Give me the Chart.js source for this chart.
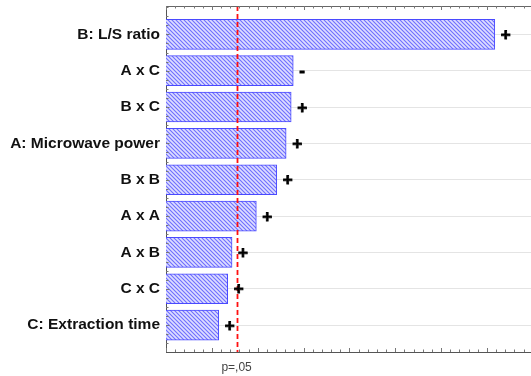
<!DOCTYPE html>
<html><head><meta charset="utf-8">
<script src="https://cdn.jsdelivr.net/npm/chart.js@4"></script>
<style>html,body{margin:0;padding:0;background:#fff;overflow:hidden}#wrap{width:531px;height:376px;position:relative}</style>
</head><body><div id="wrap"><canvas id="c"></canvas></div>
<script>
const categories = ['B: L/S ratio','A x C','B x C','A: Microwave power','B x B','A x A','A x B','C x C','C: Extraction time'];
const effects = [14.34, 5.55, 5.46, 5.24, 4.83, 3.94, 2.88, 2.69, 2.30];
const signs = ['+','-','+','+','+','+','+','+','+'];
const pValue = 3.08;
const pLabel = 'p=,05';
const xMin = 0, xMax = 15.92, xMajor = 2, xMinor = 0.4;
const yMin = -0.78, yMax = 8.74;

function hatch(){
  const c = document.createElement('canvas'); c.width = 4; c.height = 4;
  const g = c.getContext('2d');
  g.fillStyle = '#dedeff'; g.fillRect(0,0,4,4);
  g.strokeStyle = '#6e6eff'; g.lineWidth = 1.1;
  g.beginPath(); g.moveTo(-1,-1); g.lineTo(5,5); g.moveTo(-1,3); g.lineTo(1,5); g.moveTo(3,-1); g.lineTo(5,1); g.stroke();
  return g.createPattern(c,'repeat');
}

const framePlugin = {
  id:'frame',
  afterDatasetsDraw(chart){
    const {ctx, chartArea:a, scales:{x,y}} = chart;
    ctx.save();
    const px = Math.round(x.getPixelForValue(pValue)) + 0.5;
    ctx.strokeStyle = '#ff1010'; ctx.lineWidth = 1.8; ctx.setLineDash([5,3]);
    ctx.beginPath(); ctx.moveTo(px, a.top); ctx.lineTo(px, a.bottom); ctx.stroke();
    ctx.setLineDash([]);
    ctx.fillStyle = '#000'; ctx.strokeStyle = '#000'; ctx.lineWidth = 0.8;
    ctx.font = 'bold 17px "Liberation Sans", Arial, sans-serif';
    ctx.textBaseline = 'middle'; ctx.textAlign = 'left';
    effects.forEach((v,i)=>{
      const tx = x.getPixelForValue(v) + 6, ty = y.getPixelForValue(i) + 1;
      ctx.fillText(signs[i], tx, ty);
      ctx.strokeText(signs[i], tx, ty);
    });
    ctx.strokeStyle = '#666'; ctx.lineWidth = 1;
    ctx.beginPath(); ctx.moveTo(a.left, Math.round(a.top)+0.5); ctx.lineTo(a.right, Math.round(a.top)+0.5); ctx.stroke();
    ctx.strokeStyle = '#777';
    for (let v = xMin; v <= xMax + 1e-6; v += xMinor){
      const isMajor = Math.abs(v/xMajor - Math.round(v/xMajor)) < 1e-6;
      const len = isMajor ? 4 : 2.5;
      const p = Math.round(x.getPixelForValue(v)) + 0.5;
      ctx.beginPath();
      ctx.moveTo(p, a.bottom); ctx.lineTo(p, a.bottom - len);
      ctx.moveTo(p, a.top); ctx.lineTo(p, a.top + len);
      ctx.stroke();
    }
    for (let v = -0.75; v <= yMax; v += 0.25){
      const isMajor = Math.abs(v - Math.round(v)) < 1e-6;
      const len = isMajor ? 3.5 : 2.5;
      const p = Math.round(y.getPixelForValue(v)) + 0.5;
      ctx.beginPath(); ctx.moveTo(a.left, p); ctx.lineTo(a.left + len, p); ctx.stroke();
    }
    ctx.restore();
  }
};

new Chart(document.getElementById('c'), {
  type:'bar',
  data:{
    datasets:[{
      data: effects.map((v,i)=>({x:v, y:i})),
      backgroundColor: hatch(),
      borderColor:'#4a4aff', borderWidth:1,
      barThickness:30
    }]
  },
  options:{
    indexAxis:'y', responsive:true, maintainAspectRatio:false, animation:false,
    layout:{padding:{top:6, right:0, left:0, bottom:0}},
    plugins:{legend:{display:false}, tooltip:{enabled:false}},
    scales:{
      x:{type:'linear', min:xMin, max:xMax,
        grid:{display:false},
        border:{display:true, color:'#555', width:1},
        afterBuildTicks(s){ s.ticks = [{value:pValue}]; },
        afterFit(s){ s.height = 24; s.paddingLeft = 0; s.paddingRight = 0; },
        ticks:{callback:()=>pLabel, color:'#444', padding:0, maxRotation:0,
          font:{family:'"Liberation Sans", Arial, sans-serif', size:12}}
      },
      y:{type:'linear', min:yMin, max:yMax, reverse:true, offset:false,
        grid:{color:'#e4e4e4', drawTicks:false, offset:false},
        border:{display:true, color:'#555', width:1},
        afterBuildTicks(s){ s.ticks = categories.map((_,i)=>({value:i})); },
        afterFit(s){ s.width = 166; s.paddingTop = 0; s.paddingBottom = 0; },
        ticks:{callback:(v)=>categories[v], color:'#111', padding:6,
          font:{family:'"Liberation Sans", Arial, sans-serif', size:15.5, weight:'bold'}}
      }
    }
  },
  plugins:[framePlugin]
});
</script></body></html>
